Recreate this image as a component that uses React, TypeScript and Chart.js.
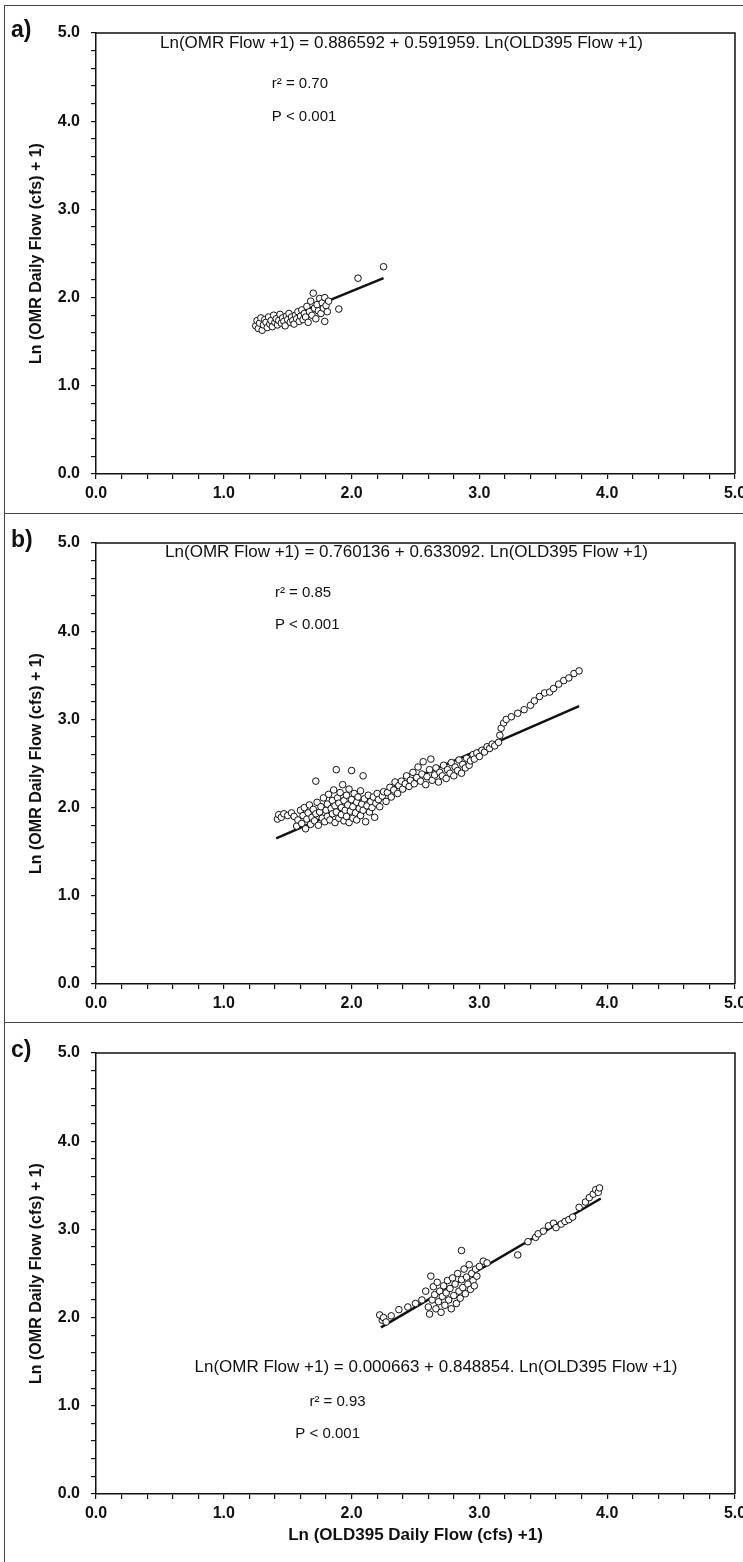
import React, { useEffect, useRef } from 'react';
import { Chart, registerables } from 'chart.js';

Chart.register(...registerables);

const FONT = "'Liberation Sans', Arial, Helvetica, sans-serif";

// ---------- text ----------
const axisTickLabels = ['0.0', '1.0', '2.0', '3.0', '4.0', '5.0'];
const xTitle = 'Ln (OLD395 Daily Flow (cfs) +1)';
const yTitle = 'Ln (OMR Daily Flow (cfs) + 1)';
const panelLabels = ['a)', 'b)', 'c)'];
const equations = [
  'Ln(OMR Flow +1) = 0.886592 + 0.591959. Ln(OLD395 Flow +1)',
  'Ln(OMR Flow +1) = 0.760136 + 0.633092. Ln(OLD395 Flow +1)',
  'Ln(OMR Flow +1) = 0.000663 + 0.848854. Ln(OLD395 Flow +1)',
];
const r2Labels = ['r\u00B2 = 0.70', 'r\u00B2 = 0.85', 'r\u00B2 = 0.93'];
const pLabels = ['P < 0.001', 'P < 0.001', 'P < 0.001'];

// ---------- data (x = Ln OLD395 flow +1, y = Ln OMR flow +1) ----------
const pointsA: number[][] = [
  [1.25, 1.68], [1.26, 1.74], [1.27, 1.65], [1.28, 1.71], [1.29, 1.77], [1.30, 1.63], [1.31, 1.69],
  [1.32, 1.75], [1.33, 1.72], [1.34, 1.66], [1.35, 1.78], [1.36, 1.70], [1.37, 1.74], [1.38, 1.67],
  [1.39, 1.80], [1.40, 1.72], [1.41, 1.76], [1.42, 1.69], [1.43, 1.74], [1.44, 1.81], [1.45, 1.71],
  [1.46, 1.77], [1.47, 1.73], [1.48, 1.68], [1.49, 1.79], [1.50, 1.75], [1.51, 1.82], [1.52, 1.72],
  [1.53, 1.78], [1.54, 1.74], [1.55, 1.70], [1.56, 1.80], [1.57, 1.76], [1.58, 1.84], [1.59, 1.73],
  [1.60, 1.79], [1.61, 1.86], [1.62, 1.75], [1.63, 1.82], [1.64, 1.78], [1.65, 1.90], [1.66, 1.72],
  [1.67, 1.84], [1.68, 1.96], [1.69, 1.80], [1.70, 2.05], [1.71, 1.88], [1.72, 1.76], [1.73, 1.92],
  [1.74, 1.85], [1.75, 1.99], [1.76, 1.82], [1.77, 1.94], [1.78, 1.88], [1.79, 2.00], [1.80, 1.91],
  [1.81, 1.84], [1.82, 1.96], [1.79, 1.73], [1.90, 1.87], [2.05, 2.22], [2.25, 2.35],
];
const fitA: number[][] = [[1.27, 1.64], [2.25, 2.22]];

const pointsB: number[][] = [
  [1.42, 1.87], [1.43, 1.92], [1.45, 1.89], [1.47, 1.93], [1.50, 1.91], [1.53, 1.94], [1.55, 1.90],
  [1.57, 1.79], [1.58, 1.86], [1.60, 1.97], [1.61, 1.82], [1.62, 1.91], [1.63, 2.00], [1.64, 1.76],
  [1.65, 1.87], [1.66, 1.94], [1.67, 2.03], [1.68, 1.81], [1.69, 1.89], [1.70, 1.98], [1.71, 1.85],
  [1.72, 2.30], [1.72, 1.93], [1.73, 2.06], [1.74, 1.80], [1.75, 1.95], [1.76, 2.01], [1.77, 1.88],
  [1.78, 2.11], [1.79, 1.84],
  [1.80, 1.97], [1.81, 2.04], [1.81, 1.90], [1.82, 2.15], [1.83, 1.86], [1.84, 1.99], [1.85, 2.08],
  [1.85, 1.93], [1.86, 2.20], [1.87, 1.83], [1.87, 2.02], [1.88, 2.43], [1.88, 1.95], [1.89, 2.11],
  [1.90, 1.88], [1.90, 2.05], [1.91, 2.17], [1.92, 1.92], [1.92, 2.00], [1.93, 2.26], [1.94, 1.85],
  [1.94, 2.08], [1.95, 1.97], [1.96, 2.14], [1.96, 1.90], [1.97, 2.03], [1.98, 2.21], [1.98, 1.83],
  [1.99, 1.96], [2.00, 2.42], [2.00, 2.09], [2.01, 1.88], [2.01, 2.01], [2.02, 2.16], [2.03, 1.94],
  [2.04, 2.06], [2.04, 1.86], [2.05, 2.12], [2.06, 1.99], [2.07, 2.19], [2.07, 1.91], [2.08, 2.04],
  [2.09, 2.36], [2.09, 1.97], [2.10, 2.10], [2.11, 1.84], [2.12, 2.02], [2.13, 2.14], [2.14, 1.95],
  [2.15, 2.07], [2.16, 2.00], [2.17, 2.12], [2.18, 1.89], [2.19, 2.05], [2.20, 2.16], [2.21, 2.09],
  [2.22, 2.01],
  [2.24, 2.13], [2.25, 2.18], [2.27, 2.07], [2.28, 2.17], [2.30, 2.23], [2.31, 2.12], [2.33, 2.20],
  [2.34, 2.29], [2.36, 2.16], [2.37, 2.25], [2.39, 2.30], [2.40, 2.21], [2.42, 2.27], [2.43, 2.36],
  [2.45, 2.24], [2.46, 2.31], [2.48, 2.40], [2.49, 2.27], [2.51, 2.34], [2.52, 2.46], [2.54, 2.30],
  [2.55, 2.38], [2.56, 2.52], [2.58, 2.26], [2.59, 2.35], [2.61, 2.43], [2.62, 2.55], [2.63, 2.31],
  [2.65, 2.37], [2.66, 2.45], [2.68, 2.29], [2.69, 2.40], [2.71, 2.36], [2.72, 2.48], [2.74, 2.33],
  [2.75, 2.43], [2.77, 2.39], [2.78, 2.51], [2.80, 2.36], [2.81, 2.46], [2.83, 2.42], [2.84, 2.54],
  [2.86, 2.39], [2.87, 2.49], [2.89, 2.45], [2.90, 2.56], [2.92, 2.48], [2.93, 2.53], [2.95, 2.60],
  [2.96, 2.55], [2.98, 2.62], [3.00, 2.58], [3.02, 2.65], [3.04, 2.63], [3.06, 2.69], [3.08, 2.67],
  [3.10, 2.72], [3.12, 2.70],
  [3.15, 2.74], [3.16, 2.82], [3.17, 2.90], [3.19, 2.96], [3.21, 3.00], [3.25, 3.03], [3.30, 3.07],
  [3.35, 3.11], [3.40, 3.16], [3.43, 3.21], [3.47, 3.26], [3.51, 3.30], [3.55, 3.31], [3.58, 3.35],
  [3.62, 3.40], [3.66, 3.44], [3.70, 3.47], [3.74, 3.52], [3.78, 3.55],
];
const fitB: number[][] = [[1.41, 1.65], [3.78, 3.15]];

const pointsC: number[][] = [
  [2.22, 2.03], [2.24, 1.97], [2.25, 2.00], [2.27, 1.95], [2.31, 2.02], [2.37, 2.09], [2.44, 2.12],
  [2.50, 2.16], [2.55, 2.20],
  [2.58, 2.30], [2.60, 2.12], [2.61, 2.04], [2.62, 2.47], [2.63, 2.20], [2.64, 2.35], [2.65, 2.26],
  [2.66, 2.10], [2.67, 2.40], [2.68, 2.18], [2.69, 2.30], [2.70, 2.06], [2.71, 2.24], [2.72, 2.36],
  [2.73, 2.14], [2.74, 2.28], [2.75, 2.42], [2.76, 2.20], [2.77, 2.33], [2.78, 2.10], [2.79, 2.45],
  [2.80, 2.25], [2.81, 2.38], [2.82, 2.16], [2.83, 2.50], [2.84, 2.30], [2.85, 2.22], [2.86, 2.76],
  [2.86, 2.43], [2.87, 2.34], [2.88, 2.55], [2.89, 2.27], [2.90, 2.46], [2.91, 2.38], [2.92, 2.60],
  [2.93, 2.32], [2.94, 2.50], [2.95, 2.42], [2.96, 2.36], [2.97, 2.55], [2.98, 2.47], [3.00, 2.58],
  [3.03, 2.64], [3.06, 2.62],
  [3.30, 2.71], [3.38, 2.86], [3.44, 2.91], [3.46, 2.95], [3.50, 2.98], [3.54, 3.04], [3.58, 3.07],
  [3.60, 3.02], [3.64, 3.06], [3.67, 3.09], [3.70, 3.11], [3.73, 3.14], [3.78, 3.25], [3.83, 3.31],
  [3.86, 3.36], [3.89, 3.40], [3.91, 3.45], [3.93, 3.42], [3.94, 3.47],
];
const fitC: number[][] = [[2.23, 1.89], [3.95, 3.35]];

// annotation anchors in data units: [equation centre], [r² left], [P left]
const eqAnchors = [[2.39, 4.88], [2.43, 4.89], [2.66, 1.44]];
const r2Anchors = [[1.375, 4.42], [1.40, 4.44], [1.67, 1.05]];
const pAnchors = [[1.375, 4.05], [1.40, 4.07], [1.56, 0.68]];

const INK = '#111';

const annotPlugin = {
  id: 'annot',
  afterDraw(chart: any, _args: any, opts: any) {
    const ctx = chart.ctx as CanvasRenderingContext2D;
    const { left, top, right, bottom } = chart.chartArea;
    const sx = chart.scales.x;
    const sy = chart.scales.y;
    ctx.save();
    ctx.strokeStyle = INK;
    ctx.lineWidth = 1.5;
    ctx.beginPath();
    ctx.moveTo(left, top);
    ctx.lineTo(right, top);
    ctx.lineTo(right, bottom);
    ctx.stroke();

    ctx.fillStyle = INK;
    ctx.textBaseline = 'middle';
    ctx.font = `bold 23px ${FONT}`;
    ctx.textAlign = 'left';
    ctx.fillText(opts.label, 11, 31);

    ctx.font = `17px ${FONT}`;
    ctx.textAlign = 'center';
    ctx.fillText(opts.eq, sx.getPixelForValue(opts.eqAt[0]), sy.getPixelForValue(opts.eqAt[1]));
    ctx.font = `15px ${FONT}`;
    ctx.textAlign = 'left';
    ctx.fillText(opts.r2, sx.getPixelForValue(opts.r2At[0]), sy.getPixelForValue(opts.r2At[1]));
    ctx.fillText(opts.p, sx.getPixelForValue(opts.pAt[0]), sy.getPixelForValue(opts.pAt[1]));
    ctx.restore();
  },
};

const tickCallback = (v: any) => {
  const n = Number(v);
  const i = Math.round(n);
  return Math.abs(n - i) < 1e-6 ? axisTickLabels[i] : '';
};

const minorTicks = (scale: any) => {
  const t: any[] = [];
  for (let i = 0; i <= 25; i++) t.push({ value: i / 5 });
  scale.ticks = t;
};

type PanelProps = {
  idx: number;
  points: number[][];
  fit: number[][];
  top: number;
  height: number;
  showXTitle: boolean;
};

function Panel({ idx, points, fit, top, height, showXTitle }: PanelProps) {
  const ref = useRef<HTMLCanvasElement>(null);
  useEffect(() => {
    const xH = height - 474;
    const chart = new Chart(ref.current as HTMLCanvasElement, {
      type: 'scatter',
      data: {
        datasets: [
          {
            data: points.map(([x, y]) => ({ x, y })),
            pointRadius: 3.3,
            pointBackgroundColor: '#fff',
            pointBorderColor: INK,
            pointBorderWidth: 1,
            showLine: false,
          },
          {
            data: fit.map(([x, y]) => ({ x, y })),
            showLine: true,
            borderColor: INK,
            borderWidth: 2.5,
            pointRadius: 0,
          },
        ],
      } as any,
      options: {
        responsive: false,
        animation: false,
        events: [],
        layout: { padding: { top: 33, right: 8, left: 0, bottom: 0 } },
        plugins: {
          legend: { display: false },
          tooltip: { enabled: false },
          annot: {
            label: panelLabels[idx],
            eq: equations[idx],
            r2: r2Labels[idx],
            p: pLabels[idx],
            eqAt: eqAnchors[idx],
            r2At: r2Anchors[idx],
            pAt: pAnchors[idx],
          },
        } as any,
        scales: {
          x: {
            type: 'linear',
            min: 0,
            max: 5,
            afterBuildTicks: minorTicks,
            afterFit: (s: any) => {
              s.height = xH;
              s.paddingLeft = 0;
              s.paddingRight = 0;
            },
            ticks: {
              autoSkip: false,
              maxRotation: 0,
              callback: tickCallback,
              color: INK,
              padding: 5,
              font: { family: FONT, size: 16, weight: 'bold' },
            },
            grid: { drawOnChartArea: false, drawTicks: true, tickLength: 5, color: INK, lineWidth: 1.2 },
            border: { display: true, color: INK, width: 1.5 },
            title: {
              display: showXTitle,
              text: xTitle,
              color: INK,
              font: { family: FONT, size: 17, weight: 'bold' },
              padding: { top: 0, bottom: 16 },
            },
          },
          y: {
            type: 'linear',
            min: 0,
            max: 5,
            afterBuildTicks: minorTicks,
            afterFit: (s: any) => {
              s.width = 96;
              s.paddingTop = 0;
              s.paddingBottom = 0;
            },
            ticks: {
              autoSkip: false,
              callback: tickCallback,
              color: INK,
              padding: 11,
              font: { family: FONT, size: 16, weight: 'bold' },
            },
            grid: { drawOnChartArea: false, drawTicks: true, tickLength: 5, color: INK, lineWidth: 1.2 },
            border: { display: true, color: INK, width: 1.5 },
            title: {
              display: true,
              text: yTitle,
              color: INK,
              font: { family: FONT, size: 16, weight: 'bold' },
              padding: { top: 27, bottom: 0 },
            },
          },
        },
      } as any,
      plugins: [annotPlugin],
    });
    return () => chart.destroy();
  }, [idx, points, fit, height, showXTitle]);

  return (
    <canvas
      ref={ref}
      width={743}
      height={height}
      style={{ position: 'absolute', left: 0, top, width: 743, height, display: 'block' }}
    />
  );
}

export default function App() {
  const line = '#444';
  return (
    <div style={{ position: 'absolute', left: 0, top: 0, width: 743, height: 1562, background: '#fff', overflow: 'hidden' }}>
      <Panel idx={0} points={pointsA} fit={fitA} top={0} height={510} showXTitle={false} />
      <Panel idx={1} points={pointsB} fit={fitB} top={510} height={510} showXTitle={false} />
      <Panel idx={2} points={pointsC} fit={fitC} top={1020} height={542} showXTitle={true} />
      <div style={{ position: 'absolute', left: 4, top: 5, width: 739, height: 0, borderTop: `1px solid ${line}` }} />
      <div style={{ position: 'absolute', left: 4, top: 513, width: 739, height: 0, borderTop: `1px solid ${line}` }} />
      <div style={{ position: 'absolute', left: 4, top: 1022, width: 739, height: 0, borderTop: `1px solid ${line}` }} />
      <div style={{ position: 'absolute', left: 4, top: 5, width: 0, height: 1557, borderLeft: `1px solid ${line}` }} />
    </div>
  );
}
